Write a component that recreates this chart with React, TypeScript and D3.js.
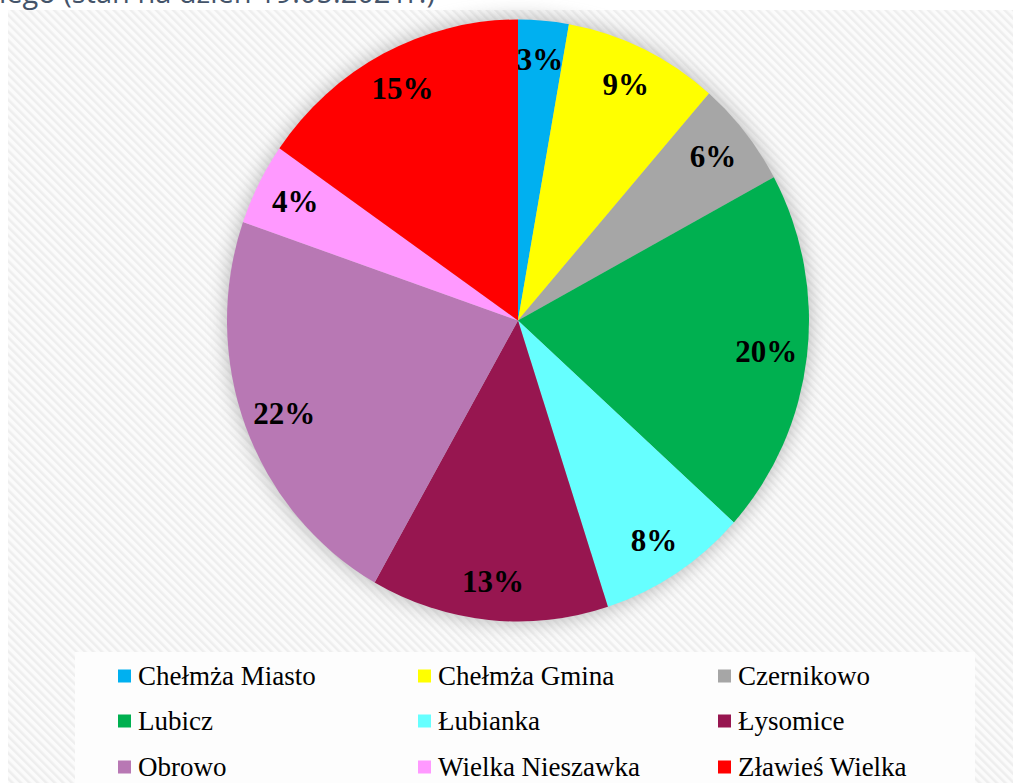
import React from "react";
import * as d3 from "d3";

const categories = [
  "Chełmża Miasto",
  "Chełmża Gmina",
  "Czernikowo",
  "Lubicz",
  "Łubianka",
  "Łysomice",
  "Obrowo",
  "Wielka Nieszawka",
  "Zławieś Wielka",
];
const shares = [2.8, 8.6, 5.7, 19.6, 8.3, 13.2, 22.1, 4.4, 15.3];
const colors = [
  "#00b0f0",
  "#ffff00",
  "#a6a6a6",
  "#00b050",
  "#66ffff",
  "#971650",
  "#b878b4",
  "#ff99ff",
  "#ff0000",
];
const titleText = "powiatu toruńskiego (stan na dzień 19.05.2021r.)";

const W = 1013;
const H = 783;
const cx = 518;
const cy = 320.5;
const R = 291;
const yScale = 301 / 291;
const labelRx = 250;
const labelRy = 262;

export default function App() {
  const total = d3.sum(shares);
  const pie = d3
    .pie<number>()
    .sort(null)
    .value((d) => d)
    .startAngle(0)
    .endAngle(2 * Math.PI);
  const arcs = pie(shares);
  const arc = d3.arc<d3.PieArcDatum<number>>().innerRadius(0).outerRadius(R);

  const legendCols = [118, 418, 718];
  const legendRows = [676, 721, 767];

  return (
    <svg
      width={W}
      height={H}
      style={{ position: "absolute", left: 0, top: 0, background: "#fff" }}
    >
      <defs>
        <pattern
          id="stripes"
          width="6"
          height="6"
          patternUnits="userSpaceOnUse"
          patternTransform="rotate(-45)"
        >
          <rect width="6" height="6" fill="#fbfbfb" />
          <rect width="2.5" height="6" fill="#eeeeee" />
        </pattern>
        <filter id="shadow" x="-20%" y="-20%" width="140%" height="140%">
          <feGaussianBlur stdDeviation="9" />
        </filter>
      </defs>
      <text
        x={435}
        y={3}
        textAnchor="end"
        fontFamily="Open Sans"
        fontSize={29}
        fill="#44546a"
      >
        {titleText}
      </text>
      <rect x={8} y={10} width={W - 8} height={H - 10} fill="url(#stripes)" />
      <g transform={`translate(${cx},${cy}) scale(1,${yScale})`}>
        <circle r={R + 2} fill="#8a8a8a" opacity={0.55} filter="url(#shadow)" />
        {arcs.map((a, i) => (
          <path key={categories[i]} d={arc(a) || ""} fill={colors[i]} />
        ))}
      </g>
      {arcs.map((a, i) => {
        const mid = (a.startAngle + a.endAngle) / 2;
        const lx = Math.sin(mid) * labelRx;
        const ly = -Math.cos(mid) * labelRy;
        return (
          <text
            key={"l" + i}
            x={cx + lx}
            y={cy + ly}
            textAnchor="middle"
            dominantBaseline="central"
            fontFamily="Liberation Serif"
            fontWeight="bold"
            fontSize={31}
            fill="#000"
          >
            {Math.round((shares[i] / total) * 100) + "%"}
          </text>
        );
      })}
      <rect x={75} y={652} width={900} height={H - 652} fill="#fdfdfd" />
      {categories.map((c, i) => {
        const col = i % 3;
        const row = Math.floor(i / 3);
        const x = legendCols[col];
        const y = legendRows[row];
        return (
          <g key={"lg" + i}>
            <rect x={x} y={y - 6.5} width={13} height={13} fill={colors[i]} />
            <text
              x={x + 20}
              y={y}
              dominantBaseline="central"
              fontFamily="Liberation Serif"
              fontSize={27}
              fill="#000"
            >
              {c}
            </text>
          </g>
        );
      })}
    </svg>
  );
}
